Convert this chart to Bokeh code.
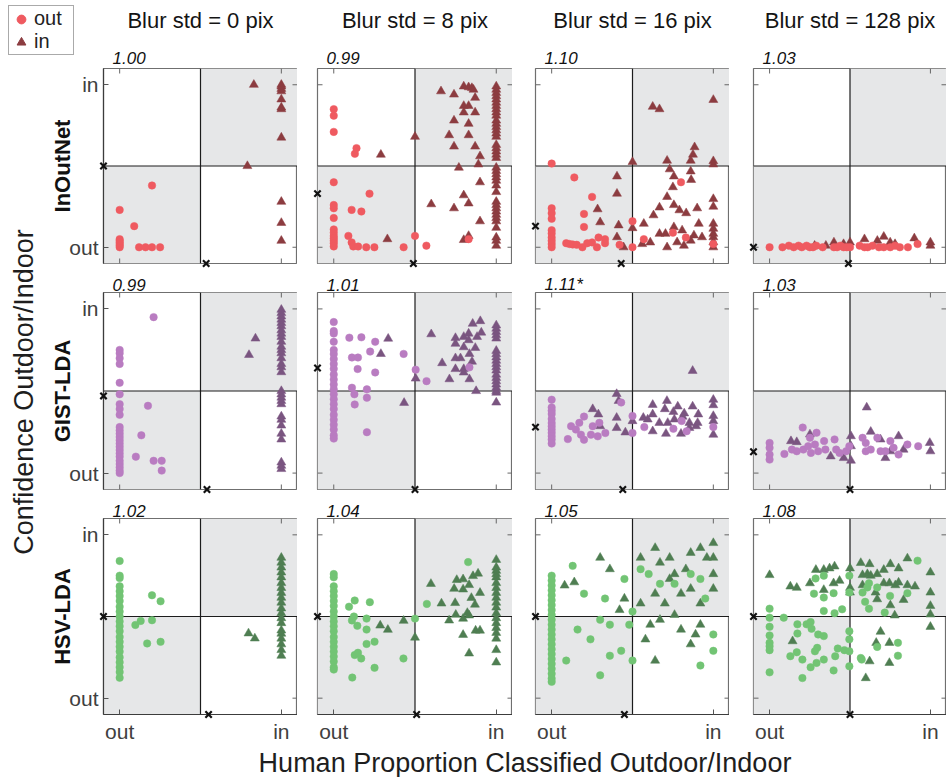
import math
from bokeh.plotting import figure
from bokeh.layouts import row, column
from bokeh.models import Range1d, FixedTicker, Span, Legend, LegendItem
from bokeh.embed import file_html
from bokeh.resources import INLINE
from bokeh.core.properties import value

FONT = "Liberation Sans"

# ---------------- data ----------------
blur_titles = ["Blur std = 0 pix", "Blur std = 8 pix", "Blur std = 16 pix", "Blur std = 128 pix"]
method_names = ["InOutNet", "GIST-LDA", "HSV-LDA"]
scores = [["1.00", "0.99", "1.10", "1.03"],
          ["0.99", "1.01", "1.11*", "1.03"],
          ["1.02", "1.04", "1.05", "1.08"]]
tick_values = [0, 1]
tick_labels = {0: "out", 1: "in"}
legend_labels = ["out", "in"]
x_title = "Human Proportion Classified Outdoor/Indoor"
y_title = "Confidence Outdoor/Indoor"
# threshold markers: confidence (left edge) and human proportion (bottom edge)
thr_conf = [[0.50, 0.33, 0.13, 0.00], [0.47, 0.64, 0.28, 0.13], [0.50, 0.50, 0.50, 0.50]]
thr_human = [[0.535, 0.49, 0.43, 0.49], [0.54, 0.50, 0.44, 0.50], [0.55, 0.51, 0.45, 0.50]]

# Row 1: InOutNet
r1c1_out_x = [0, 0, 0, 0, 0, 0, 0, 0.09, 0.20, 0.12, 0.16, 0.20, 0.25]
r1c1_out_y = [0.00, 0.01, 0.02, 0.03, 0.04, 0.05, 0.23, 0.13, 0.38, 0.00, 0.00, 0.00, 0.00]
r1c1_in_x = [1, 1, 1, 1, 1, 1, 1, 1, 1, 1, 1, 0.83, 0.79]
r1c1_in_y = [1.00, 0.99, 0.975, 0.96, 0.91, 0.86, 0.85, 0.675, 0.28, 0.15, 0.04, 1.00, 0.50]

r1c2_out_x = [0, 0, 0, 0.14, 0.13, 0, 0.22, 0, 0, 0.11, 0.17, 0, 0, 0, 0, 0, 0, 0, 0,
              0.09, 0.11, 0.12, 0.15, 0.20, 0.25, 0.43, 0.50, 0.57, 0.83]
r1c2_out_y = [0.85, 0.81, 0.71, 0.61, 0.575, 0.40, 0.33, 0.26, 0.24, 0.23, 0.22, 0.18, 0.11, 0.09, 0.07,
              0.055, 0.04, 0.025, 0.005, 0.07, 0.03, 0.005, 0.005, 0.00, 0.00, 0.00, 0.07, 0.01, 0.05]
r1c2_in_x = [0.66, 0.80, 0.83, 0.85, 0.86, 0.74, 0.87, 0.80, 0.83, 0.80, 0.87, 0.74, 0.83, 0.71, 0.83,
             0.74, 0.87, 0.90, 0.89, 0.50, 0.29, 0.77, 0.90, 0.80, 0.83, 0.60, 0.74, 0.90, 0.33, 0.80, 0.83,
             1, 1, 1, 1, 1, 1, 1, 1, 1, 1,
             1, 1, 1, 1, 1, 1, 1, 1, 1, 1,
             1, 1, 1, 1, 1, 1, 1, 1, 1, 1,
             1, 1, 1, 1, 1, 1, 1, 1, 1]
r1c2_in_y = [0.96, 0.99, 0.985, 0.98, 0.97, 0.94, 0.92, 0.87, 0.87, 0.83, 0.83, 0.78, 0.76, 0.69, 0.69,
             0.62, 0.62, 0.56, 0.51, 0.68, 0.57, 0.49, 0.40, 0.32, 0.27, 0.265, 0.24, 0.16, 0.05, 0.045, 0.07,
             0.99, 0.97, 0.95, 0.93, 0.91, 0.89, 0.87, 0.85, 0.83, 0.81,
             0.78, 0.76, 0.74, 0.72, 0.70, 0.68, 0.63, 0.61, 0.59, 0.57,
             0.55, 0.49, 0.47, 0.45, 0.43, 0.41, 0.38, 0.34, 0.28, 0.26,
             0.24, 0.22, 0.20, 0.18, 0.16, 0.12, 0.06, 0.04, 0.01]

r1c3_out_x = [0, 0.14, 0.25, 0.20, 0.20, 0, 0, 0, 0, 0, 0, 0, 0, 0, 0.09, 0.11, 0.13, 0.155, 0.19,
              0.22, 0.25, 0.29, 0.33, 0.33, 0.28, 0.42, 0.50, 0.50, 0.57, 0.75, 0.80, 0.83, 1.00]
r1c3_out_y = [0.515, 0.43, 0.31, 0.205, 0.125, 0.24, 0.21, 0.175, 0.105, 0.085, 0.06, 0.04, 0.02, 0.00,
              0.025, 0.02, 0.017, 0.015, 0.00, 0.025, 0.03, 0.06, 0.05, 0.025, 0.00, 0.015, 0.16, 0.00,
              0.05, 0.09, 0.40, 0.06, 0.02]
r1c3_in_x = [0.625, 0.667, 1.0, 0.884, 0.874, 0.86, 1.0, 1.0, 0.714, 0.5, 0.73, 0.756, 0.86, 0.863, 0.75,
             0.404, 0.404, 0.284, 0.30, 0.414, 0.404, 0.445, 0.714, 0.756, 0.79, 0.832, 0.90, 0.667, 0.63,
             0.57, 0.50, 0.56, 0.61, 0.667, 0.704, 0.756, 0.807, 0.88, 0.91, 1.0, 1.0, 1.0, 1.0, 1.0, 1.0,
             1.0, 1.0, 0.714, 0.776, 0.818, 0.86, 0.93]
r1c3_in_y = [0.865, 0.85, 0.907, 0.616, 0.57, 0.533, 0.53, 0.51, 0.533, 0.525, 0.48, 0.436, 0.467, 0.415,
             0.37, 0.436, 0.33, 0.234, 0.154, 0.135, 0.062, 0.0, 0.31, 0.26, 0.228, 0.21, 0.24, 0.245, 0.197,
             0.145, 0.118, 0.02, 0.03, 0.083, 0.083, 0.124, 0.104, 0.073, 0.145, 0.297, 0.25, 0.145, 0.114,
             0.083, 0.062, 0.031, 0.0, 0.0, 0.031, 0.01, 0.041, 0.062]

r1c4_out_x = [0, 0.08, 0.12, 0.15, 0.18, 0.20, 0.23, 0.25, 0.27, 0.29, 0.33, 0.40, 0.42, 0.44, 0.46, 0.48,
              0.50, 0.56, 0.59, 0.61, 0.64, 0.68, 0.71, 0.75, 0.78, 0.81, 0.86, 0.92]
r1c4_out_y = [0.00, 0.00, 0.01, 0.00, 0.01, 0.00, 0.01, 0.00, 0.00, 0.01, 0.00, 0.00, 0.00, 0.01, 0.00,
              0.00, 0.00, 0.01, 0.00, 0.00, 0.01, 0.00, 0.00, 0.00, 0.01, 0.00, 0.00, 0.02]
r1c4_in_x = [0.40, 0.46, 0.50, 0.59, 0.67, 0.71, 0.75, 0.78, 0.90, 1.00, 1.00, 0.28, 0.35]
r1c4_in_y = [0.03, 0.02, 0.03, 0.05, 0.04, 0.065, 0.03, 0.02, 0.055, 0.03, 0.01, 0.01, 0.01]

# Row 2: GIST-LDA
r2c1_out_x = [0, 0, 0, 0, 0, 0, 0, 0, 0, 0, 0, 0, 0, 0, 0, 0, 0, 0, 0, 0, 0, 0, 0, 0,
              0.21, 0.175, 0.134, 0.10, 0.21, 0.26, 0.26]
r2c1_out_y = [0.75, 0.73, 0.70, 0.665, 0.55, 0.48, 0.42, 0.39, 0.355, 0.28, 0.26, 0.24, 0.22, 0.20, 0.18,
              0.16, 0.14, 0.12, 0.10, 0.075, 0.055, 0.035, 0.015, 0.00,
              0.95, 0.41, 0.23, 0.10, 0.075, 0.075, 0.015]
r2c1_in_x = [0.84, 0.80,
             1, 1, 1, 1, 1, 1, 1, 1, 1, 1, 1, 1, 1, 1, 1, 1, 1, 1, 1, 1, 1, 1, 1, 1, 1, 1, 1, 1, 1, 1]
r2c1_in_y = [0.82, 0.72,
             0.995, 0.975, 0.955, 0.935, 0.915, 0.895, 0.87, 0.85, 0.83, 0.80, 0.77, 0.75, 0.73, 0.70,
             0.665, 0.645, 0.615, 0.50, 0.48, 0.46, 0.44, 0.42, 0.345, 0.325, 0.29, 0.24, 0.205, 0.065,
             0.045, 0.025]

r2c2_out_x = [0, 0, 0, 0, 0, 0, 0, 0, 0, 0, 0, 0, 0, 0, 0, 0, 0, 0, 0, 0, 0, 0, 0,
              0.096, 0.17, 0.255, 0.224, 0.112, 0.149, 0.147, 0.255, 0.43, 0.112, 0.204, 0.127, 0.204,
              0.129, 0.204, 0.504, 0.571, 0.835]
r2c2_out_y = [0.92, 0.865, 0.85, 0.80, 0.75, 0.725, 0.695, 0.665, 0.635, 0.60, 0.57, 0.54, 0.51, 0.48,
              0.45, 0.42, 0.39, 0.355, 0.325, 0.295, 0.265, 0.23, 0.21,
              0.825, 0.827, 0.80, 0.74, 0.704, 0.704, 0.634, 0.613, 0.726, 0.52, 0.51, 0.48, 0.459,
              0.418, 0.249, 0.63, 0.56, 0.644]
r2c2_in_x = [0.335, 0.29, 0.60, 0.749, 0.80, 0.855, 0.902, 0.83, 0.882, 0.908, 0.749, 0.80, 0.83, 0.871,
             0.749, 0.78, 0.835, 0.667, 0.749, 0.80, 0.851, 0.80, 0.712, 0.835, 0.876, 0.504, 0.433,
             1, 1, 1, 1, 1, 1, 1, 1, 1, 1, 1, 1, 1, 1, 1, 1, 1, 1, 1, 1]
r2c2_in_y = [0.819, 0.726, 0.846, 0.823, 0.83, 0.91, 0.926, 0.85, 0.83, 0.856, 0.788, 0.767, 0.81, 0.763,
             0.70, 0.70, 0.726, 0.67, 0.634, 0.634, 0.679, 0.613, 0.572, 0.572, 0.50, 0.576, 0.428,
             0.90, 0.88, 0.86, 0.84, 0.82, 0.745, 0.725, 0.705, 0.685, 0.665, 0.645, 0.625, 0.60, 0.58,
             0.56, 0.54, 0.52, 0.50, 0.49, 0.43]

r2c3_out_x = [0, 0, 0, 0, 0, 0, 0, 0, 0, 0, 0, 0,
              0.12, 0.10, 0.15, 0.171, 0.20, 0.181, 0.20, 0.243, 0.254, 0.295, 0.285, 0.332, 0.43,
              0.50, 0.50, 0.573, 0.753, 0.804, 0.835, 1.0]
r2c3_out_y = [0.447, 0.40, 0.38, 0.36, 0.33, 0.305, 0.285, 0.265, 0.245, 0.225, 0.205, 0.18,
              0.286, 0.207, 0.265, 0.306, 0.344, 0.234, 0.203, 0.234, 0.286, 0.306, 0.224, 0.244, 0.43,
              0.348, 0.244, 0.28, 0.27, 0.317, 0.255, 0.28]
r2c3_in_x = [0.872, 0.402, 0.414, 0.254, 0.289, 0.402, 0.402, 0.456, 0.50, 0.30, 0.567, 0.625, 0.713,
             0.78, 0.872, 0.625, 0.70, 0.753, 0.82, 0.907, 0.594, 0.666, 0.718, 0.759, 0.81, 0.852, 0.893,
             0.625, 0.707, 0.80, 0.852, 0.903, 1.0, 1.0, 1.0, 1.0, 1.0]
r2c3_in_y = [0.623, 0.482, 0.44, 0.39, 0.358, 0.337, 0.275, 0.248, 0.317, 0.286, 0.337, 0.416, 0.44,
             0.406, 0.406, 0.358, 0.39, 0.373, 0.364, 0.358, 0.327, 0.306, 0.306, 0.327, 0.344, 0.306,
             0.286, 0.255, 0.24, 0.24, 0.275, 0.306, 0.447, 0.414, 0.348, 0.317, 0.234]

r2c4_out_x = [0, 0, 0, 0, 0.092, 0.139, 0.169, 0.206, 0.21, 0.24, 0.251, 0.257, 0.282, 0.292, 0.302,
              0.339, 0.347, 0.404, 0.414, 0.435, 0.476, 0.496, 0.578, 0.598, 0.598, 0.629, 0.67, 0.69,
              0.751, 0.771, 0.802, 0.857, 0.924, 0.72]
r2c4_out_y = [0.184, 0.154, 0.113, 0.082, 0.117, 0.143, 0.133, 0.277, 0.143, 0.164, 0.215, 0.123, 0.174,
              0.246, 0.133, 0.195, 0.143, 0.205, 0.143, 0.123, 0.133, 0.164, 0.215, 0.184, 0.133, 0.143,
              0.215, 0.133, 0.195, 0.154, 0.113, 0.174, 0.164, 0.133]
r2c4_in_x = [0.133, 0.169, 0.251, 0.38, 0.461, 0.506, 0.506, 0.506, 0.604, 0.629, 0.69, 0.72, 0.751,
             0.802, 0.833, 0.996, 1.0]
r2c4_in_y = [0.195, 0.189, 0.236, 0.102, 0.092, 0.225, 0.164, 0.076, 0.40, 0.252, 0.205, 0.092, 0.133,
             0.225, 0.143, 0.184, 0.133]

# Row 3: HSV-LDA
r3c1_out_x = [0, 0, 0, 0, 0, 0, 0, 0, 0, 0, 0, 0, 0, 0, 0, 0, 0, 0, 0, 0, 0, 0,
              0.20, 0.253, 0.097, 0.13, 0.20, 0.17, 0.253]
r3c1_out_y = [0.84, 0.75, 0.735, 0.685, 0.655, 0.625, 0.595, 0.56, 0.53, 0.50, 0.47, 0.44, 0.41, 0.375,
              0.345, 0.315, 0.285, 0.25, 0.22, 0.19, 0.16, 0.125,
              0.63, 0.593, 0.448, 0.473, 0.477, 0.335, 0.345]
r3c1_in_x = [0.797, 0.836,
             1, 1, 1, 1, 1, 1, 1, 1, 1, 1, 1, 1, 1, 1, 1, 1, 1, 1, 1, 1]
r3c1_in_y = [0.397, 0.366,
             0.86, 0.83, 0.80, 0.77, 0.74, 0.705, 0.675, 0.645, 0.615, 0.585, 0.55, 0.52, 0.49, 0.46,
             0.415, 0.395, 0.365, 0.33, 0.295, 0.26]

r3c2_out_x = [0, 0, 0, 0, 0, 0, 0, 0, 0, 0, 0, 0, 0, 0, 0, 0, 0, 0, 0, 0,
              0.094, 0.129, 0.222, 0.124, 0.112, 0.145, 0.202, 0.202, 0.202, 0.251, 0.129, 0.149, 0.169,
              0.251, 0.114, 0.429, 0.50, 0.573, 0.827]
r3c2_out_y = [0.76, 0.74, 0.685, 0.655, 0.625, 0.595, 0.565, 0.53, 0.50, 0.47, 0.44, 0.41, 0.375, 0.345,
              0.315, 0.285, 0.255, 0.225, 0.19, 0.175,
              0.56, 0.598, 0.588, 0.50, 0.476, 0.443, 0.487, 0.42, 0.332, 0.346, 0.264, 0.278, 0.243,
              0.186, 0.126, 0.243, 0.487, 0.577, 0.833]
r3c2_in_x = [0.286, 0.333, 0.43, 0.50, 0.598, 0.663, 0.741, 0.757, 0.796, 0.833, 0.796, 0.857, 0.888,
             0.847, 0.90, 0.869, 0.747, 0.751, 0.71, 0.796, 0.822, 0.833, 0.796, 0.873, 0.90, 0.833,
             1.0, 1.0, 1.0,
             1, 1, 1, 1, 1, 1, 1, 1, 1, 1, 1, 1, 1, 1, 1, 1]
r3c2_in_y = [0.445, 0.419, 0.474, 0.371, 0.70, 0.58, 0.67, 0.724, 0.728, 0.693, 0.666, 0.748, 0.763,
             0.614, 0.645, 0.573, 0.583, 0.511, 0.476, 0.487, 0.522, 0.507, 0.388, 0.414, 0.414, 0.274,
             0.847, 0.295, 0.219,
             0.80, 0.78, 0.76, 0.74, 0.705, 0.675, 0.645, 0.615, 0.585, 0.555, 0.52, 0.49, 0.46, 0.43,
             0.40, 0.365]

r3c3_out_x = [0, 0, 0, 0, 0, 0, 0, 0, 0, 0, 0, 0, 0, 0, 0, 0, 0, 0, 0, 0, 0, 0, 0,
              0.13, 0.20, 0.16, 0.09, 0.24, 0.30, 0.36, 0.36, 0.45, 0.55, 0.33, 0.48, 0.30, 0.50, 0.60,
              0.67, 0.76, 0.86, 0.92, 0.95, 1.0, 1.0, 0.92, 0.50, 0.43]
r3c3_out_y = [0.75, 0.72, 0.69, 0.66, 0.63, 0.60, 0.57, 0.54, 0.51, 0.48, 0.45, 0.42, 0.39, 0.36, 0.33,
              0.30, 0.27, 0.24, 0.21, 0.18, 0.15, 0.12, 0.10,
              0.81, 0.64, 0.42, 0.23, 0.36, 0.48, 0.26, 0.45, 0.73, 0.79, 0.61, 0.45, 0.14, 0.53, 0.76,
              0.70, 0.70, 0.76, 0.73, 0.61, 0.39, 0.29, 0.20, 0.23, 0.29]
r3c3_in_x = [0.08, 0.14, 0.30, 0.36, 0.55, 0.64, 0.67, 0.73, 0.76, 0.80, 0.86, 0.92, 0.96, 1.0, 1.0, 1.0,
             1.0, 0.64, 0.70, 0.86, 0.92, 0.76, 0.80, 0.86, 0.92, 0.58, 0.61, 0.64, 0.55, 0.42, 0.45,
             0.73, 0.83, 0.67, 0.89]
r3c3_in_y = [0.69, 0.71, 0.86, 0.79, 0.86, 0.92, 0.83, 0.86, 0.76, 0.64, 0.89, 0.92, 0.86, 0.95, 0.86,
             0.76, 0.67, 0.64, 0.58, 0.67, 0.58, 0.51, 0.42, 0.33, 0.45, 0.36, 0.45, 0.23, 0.58, 0.54,
             0.61, 0.73, 0.79, 0.48, 0.39]

r3c4_out_x = [0, 0, 0, 0, 0, 0, 0, 0, 0.088, 0.173, 0.173, 0.23, 0.255, 0.261, 0.302, 0.337, 0.296,
              0.282, 0.129, 0.169, 0.204, 0.255, 0.292, 0.337, 0.408, 0.398, 0.424, 0.465, 0.496, 0.496,
              0.496, 0.496, 0.567, 0.204, 0.337, 0.286, 0.276, 0.337, 0.398, 0.337, 0.404, 0.451, 0.496,
              0.496, 0.578, 0.608, 0.618, 0.594, 0.618, 0.669, 0.716, 0.749, 0.857, 0.92, 0.798, 0.798,
              0.669, 0.573]
r3c4_out_y = [0.548, 0.493, 0.437, 0.384, 0.339, 0.318, 0.294, 0.158, 0.493, 0.452, 0.396, 0.452, 0.466,
              0.425, 0.39, 0.38, 0.308, 0.287, 0.257, 0.281, 0.236, 0.189, 0.216, 0.236, 0.257, 0.17,
              0.304, 0.294, 0.41, 0.36, 0.287, 0.195, 0.246, 0.123, 0.75, 0.733, 0.64, 0.616, 0.643,
              0.534, 0.52, 0.544, 0.75, 0.647, 0.647, 0.678, 0.704, 0.59, 0.548, 0.678, 0.524, 0.626,
              0.643, 0.842, 0.339, 0.26, 0.314, 0.236]
r3c4_in_x = [0, 0.129, 0.169, 0.251, 0.288, 0.337, 0.373, 0.404, 0.337, 0.398, 0.435, 0.50, 0.50, 0.50,
             0.567, 0.622, 0.578, 0.608, 0.629, 0.669, 0.71, 0.751, 0.802, 0.857, 0.71, 0.745, 0.782,
             0.802, 0.857, 0.904, 0.578, 0.659, 0.669, 0.751, 0.778, 0.833, 1.0, 1.0, 1.0, 1.0, 1.0,
             0.69, 0.663, 0.745, 0.622, 0.745, 0.598, 0.143]
r3c4_in_y = [0.754, 0.684, 0.676, 0.704, 0.786, 0.786, 0.795, 0.807, 0.663, 0.704, 0.719, 0.795, 0.676,
             0.647, 0.828, 0.821, 0.754, 0.76, 0.75, 0.76, 0.786, 0.821, 0.795, 0.856, 0.704, 0.704,
             0.692, 0.708, 0.692, 0.684, 0.692, 0.647, 0.606, 0.569, 0.507, 0.602, 0.77, 0.647, 0.565,
             0.513, 0.437, 0.407, 0.339, 0.339, 0.226, 0.216, 0.123, 0.349]

panel_data = [
    [(r1c1_out_x, r1c1_out_y, r1c1_in_x, r1c1_in_y), (r1c2_out_x, r1c2_out_y, r1c2_in_x, r1c2_in_y),
     (r1c3_out_x, r1c3_out_y, r1c3_in_x, r1c3_in_y), (r1c4_out_x, r1c4_out_y, r1c4_in_x, r1c4_in_y)],
    [(r2c1_out_x, r2c1_out_y, r2c1_in_x, r2c1_in_y), (r2c2_out_x, r2c2_out_y, r2c2_in_x, r2c2_in_y),
     (r2c3_out_x, r2c3_out_y, r2c3_in_x, r2c3_in_y), (r2c4_out_x, r2c4_out_y, r2c4_in_x, r2c4_in_y)],
    [(r3c1_out_x, r3c1_out_y, r3c1_in_x, r3c1_in_y), (r3c2_out_x, r3c2_out_y, r3c2_in_x, r3c2_in_y),
     (r3c3_out_x, r3c3_out_y, r3c3_in_x, r3c3_in_y), (r3c4_out_x, r3c4_out_y, r3c4_in_x, r3c4_in_y)],
]

# ---------------- style / layout ----------------
colors_out = ["#ef5a60", "#b97cc1", "#72c474"]
colors_in = ["#8c3c40", "#7a5580", "#4f7e52"]
shade = "#e6e7e8"
LO, HI, MID = -0.1, 1.1, 0.5
SPAN = HI - LO

TOP_H, BOTTOM_H, LEFT_W = 67, 32, 40
col_border_left = [63, 20, 23, 24]
col_fig_w = [257, 215, 217, 217]
row_border_top = [1, 22, 22]
row_border_bottom = [7, 7, 30]
row_fig_h = [203, 226, 249]
TICK_PX = 5

frame_left = []
acc = LEFT_W
for c in range(4):
    frame_left.append(acc + col_border_left[c])
    acc += col_fig_w[c]
frame_w = [col_fig_w[c] - col_border_left[c] for c in range(4)]
frame_h = [row_fig_h[r] - row_border_top[r] - row_border_bottom[r] for r in range(3)]
col_centers = [frame_left[c] + frame_w[c] / 2 for c in range(4)]


def make_panel(r, c):
    out_x, out_y, in_x, in_y = panel_data[r][c]
    ppx = frame_w[c] / SPAN   # pixels per data unit
    ppy = frame_h[r] / SPAN
    has_y_axis = (c == 0)
    has_x_axis = (r == 2)
    p = figure(width=col_fig_w[c], height=row_fig_h[r],
               x_range=Range1d(LO, HI), y_range=Range1d(LO, HI),
               x_axis_location="below" if has_x_axis else None,
               y_axis_location="left" if has_y_axis else None,
               output_backend="svg", toolbar_location=None,
               min_border_left=col_border_left[c], min_border_right=0,
               min_border_top=row_border_top[r], min_border_bottom=row_border_bottom[r])
    p.grid.visible = False
    p.outline_line_color = "#6f6f6f"
    p.outline_line_width = 1.2
    p.background_fill_color = "white"
    p.border_fill_color = "white"

    # agreement quadrants
    p.quad(left=[LO, MID], right=[MID, HI], bottom=[LO, MID], top=[MID, HI],
           fill_color=shade, line_color=None, level="underlay")
    p.add_layout(Span(location=MID, dimension="width", line_color="#1c1c1c", line_width=1.2,
                      level="underlay"))
    p.add_layout(Span(location=MID, dimension="height", line_color="#1c1c1c", line_width=1.2,
                      level="underlay"))

    for ax in p.axis:
        ax.ticker = FixedTicker(ticks=tick_values, minor_ticks=[])
        ax.major_label_overrides = tick_labels
        ax.major_tick_in = TICK_PX
        ax.major_tick_out = 0
        ax.major_tick_line_color = "#555555"
        ax.axis_line_color = "#3c3c3c"
        ax.axis_line_width = 1.2
        ax.major_label_text_font = FONT
        ax.major_label_text_font_size = "21px"
        ax.major_label_text_color = "#404040"
        ax.major_label_standoff = 5

    # inward tick marks on the sides without a labelled axis
    tx = TICK_PX / ppx
    ty = TICK_PX / ppy
    x0, y0, x1, y1 = [], [], [], []
    for t in tick_values:
        x0 += [t, HI]; y0 += [HI, t]; x1 += [t, HI - tx]; y1 += [HI - ty, t]
        if not has_x_axis:
            x0.append(t); y0.append(LO); x1.append(t); y1.append(LO + ty)
        if not has_y_axis:
            x0.append(LO); y0.append(t); x1.append(LO + tx); y1.append(t)
    p.segment(x0=x0, y0=y0, x1=x1, y1=y1, line_color="#666666", line_width=1)

    p.scatter(in_x, in_y, marker="triangle", size=9, fill_color=colors_in[r],
              line_color=colors_in[r], line_width=0.5)
    p.scatter(out_x, out_y, marker="circle", size=7.5, fill_color=colors_out[r],
              line_color=colors_out[r], line_width=0.5)

    # threshold crosses on the axes
    p.scatter([LO], [thr_conf[r][c]], marker="x", size=9, line_color="#111111", line_width=2.2,
              level="overlay")
    p.scatter([thr_human[r][c]], [LO], marker="x", size=9, line_color="#111111", line_width=2.2,
              level="overlay")

    # score above the panel (row 1 scores live in the top strip)
    if r > 0:
        p.text(x=[LO + 9 / ppx], y=[HI + 8 / ppy], text=[scores[r][c]], text_font=value(FONT),
               text_font_style="italic", text_font_size="17px", text_color="#111111",
               text_align="left", text_baseline="middle", level="overlay")
    if has_y_axis:
        p.text(x=[LO - 41 / ppx], y=[MID], text=[method_names[r]], angle=math.pi / 2,
               text_font=value(FONT), text_font_style="bold", text_font_size="22px",
               text_color="#111111", text_align="center", text_baseline="middle", level="overlay")
    return p


rows_figs = [row(*[make_panel(r, c) for c in range(4)]) for r in range(3)]

# top strip: legend, column titles and the first row's scores
top = figure(width=946, height=TOP_H, x_range=Range1d(0, 946), y_range=Range1d(0, TOP_H),
             x_axis_location=None, y_axis_location=None, min_border=0, toolbar_location=None,
             output_backend="svg", outline_line_color=None)
top.grid.visible = False
top.text(x=col_centers, y=[TOP_H - 20] * 4, text=blur_titles, text_font=value(FONT),
         text_font_size="22px", text_align="center", text_baseline="middle", text_color="#141414")
top.text(x=[fl + 9 for fl in frame_left], y=[TOP_H - 57] * 4, text=scores[0], text_font=value(FONT),
         text_font_style="italic", text_font_size="17px", text_color="#111111",
         text_align="left", text_baseline="middle")
r_out = top.scatter([-1000], [-1000], marker="circle", size=10, fill_color=colors_out[0],
                    line_color=colors_out[0])
r_in = top.scatter([-1000], [-1000], marker="triangle", size=11, fill_color=colors_in[0],
                   line_color=colors_in[0])
leg = Legend(items=[LegendItem(label=legend_labels[0], renderers=[r_out]),
                    LegendItem(label=legend_labels[1], renderers=[r_in])],
             location=(8, 12), orientation="vertical", padding=1, spacing=0, margin=0,
             glyph_width=22, glyph_height=22, label_height=22, label_width=38, label_standoff=2,
             label_text_font=FONT, label_text_font_size="20px", label_text_color="#222222",
             border_line_color="#555555", border_line_width=1, background_fill_color="white",
             background_fill_alpha=1.0)
top.add_layout(leg)

# left strip: global y label
left_h = sum(row_fig_h)
left = figure(width=LEFT_W, height=left_h, x_range=Range1d(0, LEFT_W), y_range=Range1d(0, left_h),
              x_axis_location=None, y_axis_location=None, min_border=0, toolbar_location=None,
              output_backend="svg", outline_line_color=None)
left.grid.visible = False
grid_top_abs = TOP_H + row_border_top[0]
grid_bottom_abs = TOP_H + left_h - row_border_bottom[2]
grid_center_abs = (grid_top_abs + grid_bottom_abs) / 2
left.text(x=[23], y=[left_h - (grid_center_abs - TOP_H)], text=[y_title],
          angle=math.pi / 2, text_font=value(FONT), text_font_size="27px", text_align="center",
          text_baseline="middle", text_color="#1e1e1e")

# bottom strip: global x label
bottom = figure(width=946, height=BOTTOM_H, x_range=Range1d(0, 946), y_range=Range1d(0, BOTTOM_H),
                x_axis_location=None, y_axis_location=None, min_border=0, toolbar_location=None,
                output_backend="svg", outline_line_color=None)
bottom.grid.visible = False
grid_center_x = (frame_left[0] + frame_left[3] + frame_w[3]) / 2
bottom.text(x=[grid_center_x], y=[BOTTOM_H - 17], text=[x_title],
            text_font=value(FONT), text_font_size="27px", text_align="center",
            text_baseline="middle", text_color="#1e1e1e")

layout = column(top, row(left, column(*rows_figs)), bottom)

open("out.html", "w").write(file_html(layout, INLINE))
